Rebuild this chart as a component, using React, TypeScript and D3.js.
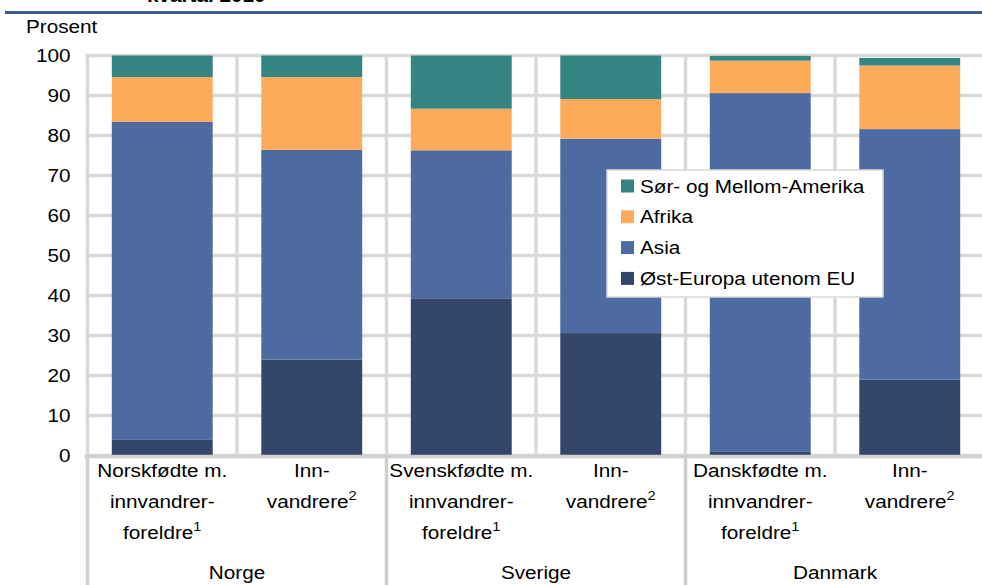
import React, { useRef, useEffect } from "react";
import { select, scaleBand, scaleLinear, stack, range } from "d3";

const WIDTH = 982;
const HEIGHT = 585;
const PLOT = { left: 87.5, right: 984.5, top: 55.5, bottom: 455.5 };
const FONT = "'Liberation Sans', Arial, sans-serif";
const FONT_SIZE = 18.5;
const SX = 1.12; // the source picture is a little stretched sideways
const GRID = "#d9d9d9";

const categoryLines = [
  ["Norskfødte m.", "innvandrer-", "foreldre"],
  ["Inn-", "vandrere"],
  ["Svenskfødte m.", "innvandrer-", "foreldre"],
  ["Inn-", "vandrere"],
  ["Danskfødte m.", "innvandrer-", "foreldre"],
  ["Inn-", "vandrere"],
];
const footnotes = ["1", "2", "1", "2", "1", "2"];
const groups = ["Norge", "Sverige", "Danmark"];
const yTicks = [0, 10, 20, 30, 40, 50, 60, 70, 80, 90, 100];

// segment sizes, bottom to top
const ostEuropa = [3.9, 24.0, 39.3, 30.6, 0.9, 19.0];
const asia = [79.5, 52.4, 37.0, 48.6, 89.7, 62.6];
const afrika = [11.2, 18.2, 10.4, 9.9, 8.1, 15.9];
const amerika = [5.4, 5.4, 13.3, 10.9, 1.2, 1.9];

const seriesKeys = ["ost", "asia", "afrika", "amerika"];
const seriesNames = {
  ost: "Øst-Europa utenom EU",
  asia: "Asia",
  afrika: "Afrika",
  amerika: "Sør- og Mellom-Amerika",
};
const seriesColors = {
  ost: "#344669",
  asia: "#4e6ba1",
  afrika: "#fdab5b",
  amerika: "#348481",
};

const addText = (g, x, y, str, anchor = "middle", weight = "normal") =>
  g
    .append("text")
    .attr("transform", `translate(${x},${y}) scale(${SX},1)`)
    .attr("text-anchor", anchor)
    .attr("font-family", FONT)
    .attr("font-size", FONT_SIZE)
    .attr("font-weight", weight)
    .attr("fill", "#000")
    .text(str);

export default function App() {
  const ref = useRef<SVGSVGElement>(null);

  useEffect(() => {
    const svg = select(ref.current);
    svg.selectAll("*").remove();

    const rows = categoryLines.map((_, i) => ({
      i,
      ost: ostEuropa[i],
      asia: asia[i],
      afrika: afrika[i],
      amerika: amerika[i],
    }));

    const x = scaleBand()
      .domain(range(rows.length).map(String))
      .range([PLOT.left, PLOT.right])
      .paddingInner(0.325)
      .paddingOuter(0.1625);
    const step = x.step();
    const y = scaleLinear().domain([0, 100]).range([PLOT.bottom, PLOT.top]);

    // title, cut off at the top edge in the source, + rule
    addText(svg, 147, 1.5, "kvartal 2010", "start", "bold");
    svg
      .append("line")
      .attr("x1", 5)
      .attr("x2", WIDTH)
      .attr("y1", 12.5)
      .attr("y2", 12.5)
      .attr("stroke", "#3f5a8b")
      .attr("stroke-width", 3);

    // grid
    const grid = svg.append("g");
    yTicks.forEach((t) =>
      grid
        .append("line")
        .attr("x1", PLOT.left - 2)
        .attr("x2", PLOT.right)
        .attr("y1", y(t))
        .attr("y2", y(t))
        .attr("stroke", GRID)
        .attr("stroke-width", 3.5)
    );
    range(rows.length + 1).forEach((k) =>
      grid
        .append("line")
        .attr("x1", PLOT.left + k * step)
        .attr("x2", PLOT.left + k * step)
        .attr("y1", y(100) - 1.5)
        .attr("y2", y(0))
        .attr("stroke", GRID)
        .attr("stroke-width", 3.5)
    );

    // bars
    const stacked = stack().keys(seriesKeys)(rows);
    stacked.forEach((layer) => {
      svg
        .append("g")
        .attr("fill", seriesColors[layer.key])
        .selectAll("rect")
        .data(layer)
        .enter()
        .append("rect")
        .attr("x", (d, i) => x(String(i)))
        .attr("width", x.bandwidth())
        .attr("y", (d) => y(d[1]))
        .attr("height", (d) => y(d[0]) - y(d[1]));
    });

    // axis area below the bars
    const axis = svg.append("g");
    axis
      .append("line")
      .attr("x1", PLOT.left - 3)
      .attr("x2", PLOT.right)
      .attr("y1", y(0) + 1)
      .attr("y2", y(0) + 1)
      .attr("stroke", "#d0d0d0")
      .attr("stroke-width", 3.5);
    [0, 2, 4].forEach((k) =>
      axis
        .append("line")
        .attr("x1", PLOT.left + k * step)
        .attr("x2", PLOT.left + k * step)
        .attr("y1", y(0))
        .attr("y2", HEIGHT)
        .attr("stroke", "#cfcfcf")
        .attr("stroke-width", 3.5)
    );

    // y tick labels
    yTicks.forEach((t) => addText(svg, 70.5, y(t) + 6.5, String(t), "end"));
    addText(svg, 26, 33, "Prosent", "start");

    // category labels
    categoryLines.forEach((lines, i) => {
      const cx = x(String(i)) + x.bandwidth() / 2;
      lines.forEach((ln, j) => {
        const t = addText(svg, cx, 477 + j * 31, ln);
        if (j === lines.length - 1) {
          t.append("tspan")
            .attr("font-size", 13)
            .attr("dy", -8)
            .text(footnotes[i]);
        }
      });
    });
    groups.forEach((gname, k) =>
      addText(svg, PLOT.left + (2 * k + 1) * step, 579, gname)
    );

    // legend
    const lg = svg.append("g");
    lg.append("rect")
      .attr("x", 607)
      .attr("y", 170)
      .attr("width", 276)
      .attr("height", 127)
      .attr("fill", "#fff")
      .attr("stroke", "#d9d9d9")
      .attr("stroke-width", 1.5);
    [...seriesKeys].reverse().forEach((key, j) => {
      const cy = 186 + j * 30.8;
      lg.append("rect")
        .attr("x", 621)
        .attr("y", cy - 6.5)
        .attr("width", 13)
        .attr("height", 13)
        .attr("fill", seriesColors[key]);
      addText(lg, 640, cy + 6.5, seriesNames[key], "start");
    });
  }, []);

  return (
    <svg
      ref={ref}
      width={WIDTH}
      height={HEIGHT}
      style={{ position: "absolute", left: 0, top: 0, background: "#fff" }}
    />
  );
}
